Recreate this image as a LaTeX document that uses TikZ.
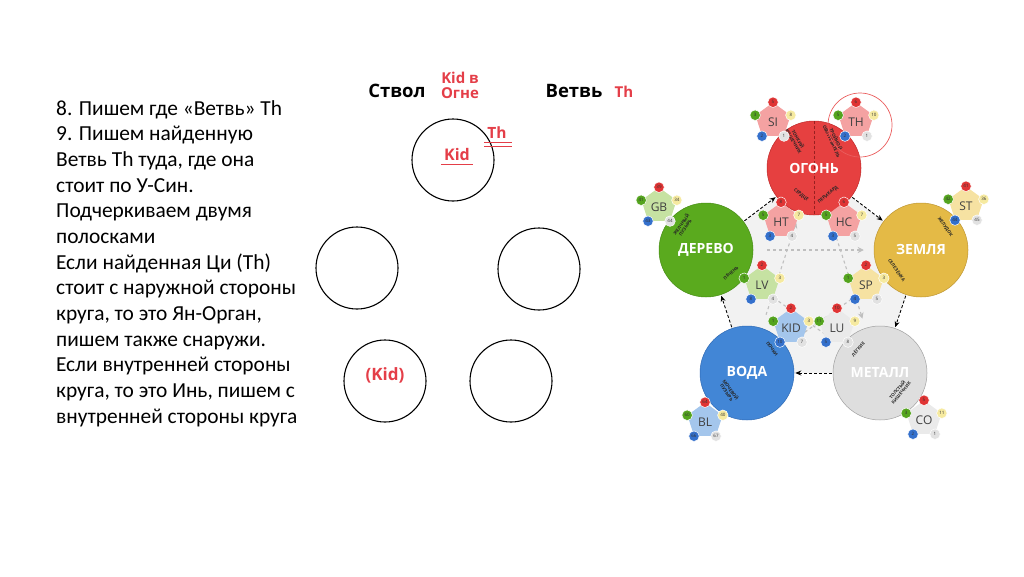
\documentclass[tikz,border=0pt]{standalone}
\usepackage{fontspec}
\setmainfont{Carlito}
\newfontfamily\osans{Open Sans}
\usetikzlibrary{shapes.geometric,arrows.meta,calc}
\definecolor{redtxt}{RGB}{228,62,72}
\definecolor{fireC}{RGB}{230,64,64}
\definecolor{fireD}{RGB}{190,40,40}
\definecolor{woodC}{RGB}{90,170,30}
\definecolor{woodD}{RGB}{70,140,20}
\definecolor{earthC}{RGB}{228,186,70}
\definecolor{earthD}{RGB}{190,150,50}
\definecolor{waterC}{RGB}{66,134,214}
\definecolor{waterD}{RGB}{45,105,180}
\definecolor{metalC}{RGB}{222,222,222}
\definecolor{metalD}{RGB}{160,160,160}
\definecolor{firep}{RGB}{244,162,162}
\definecolor{woodp}{RGB}{198,226,162}
\definecolor{earthp}{RGB}{246,226,162}
\definecolor{waterp}{RGB}{164,198,236}
\definecolor{metalp}{RGB}{234,234,234}
\definecolor{nR}{RGB}{224,52,52}
\definecolor{nG}{RGB}{84,164,30}
\definecolor{nY}{RGB}{246,234,160}
\definecolor{nB}{RGB}{52,112,204}
\definecolor{nW}{RGB}{226,226,226}
\definecolor{bggray}{RGB}{242,242,242}
\newcommand\orgpent[9]{%
  \node[pent, fill=#3] (#1) at (#2) {};
  \node[orgtext] (#1-t) at ($(#1)+(0,1.5)$) {#4};
  \node[numc, fill=nR] (#1-a) at (#1.corner 1) {#5};
  \node[numc, fill=nG] (#1-b) at (#1.corner 2) {#6};
  \node[numc, fill=nY] (#1-c) at (#1.corner 5) {#7};
  \node[numc, fill=nB] (#1-d) at (#1.corner 3) {#8};
  \node[numc, fill=nW] (#1-e) at (#1.corner 4) {#9};
}
\begin{document}
\begin{tikzpicture}[x=1pt,y=-1pt,
  bodytxt/.style={anchor=base west, inner sep=0pt, font=\fontsize{21.4}{25}\selectfont},
  hdr/.style={anchor=base, inner sep=0pt, font=\osans\bfseries\fontsize{18.5}{18.5}\selectfont},
  redsm/.style={anchor=base, inner sep=0pt, text=redtxt, font=\osans\bfseries\fontsize{15}{15}\selectfont},
  ring/.style={circle, draw=black, line width=1.1pt, minimum size=82pt, inner sep=0pt},
  redline/.style={draw=redtxt, line width=0.8pt},
  elem/.style={circle, minimum size=94pt, inner sep=0pt, line width=0.5pt},
  elemtxt/.style={text=white, inner sep=0pt, font=\osans\bfseries\fontsize{14}{14}\selectfont},
  pent/.style={regular polygon, regular polygon sides=5, minimum size=37pt, inner sep=0pt},
  orgtext/.style={inner sep=0pt, text=black!75, font=\osans\fontsize{12}{12}\selectfont},
  numc/.style={circle, draw=white, line width=0.5pt, minimum size=10.5pt, inner sep=0pt, text=black!80, font=\osans\fontsize{4.5}{4.5}\selectfont},
  tinylbl/.style={inner sep=0pt, align=center, text=black!85, font=\osans\bfseries\fontsize{4.5}{4.8}\selectfont},
  outarrow/.style={densely dashed, line width=0.9pt, black, -{Stealth[length=6pt,width=5pt]}, shorten >=1pt, shorten <=1pt},
  innerarrow/.style={dashed, line width=1.1pt, black!25, -{Stealth[length=6pt,width=6pt]}, shorten <=14pt, shorten >=10pt}
]
\useasboundingbox (0,0) rectangle (1024,576);

% ---------- left text ----------
\node[bodytxt] (l1) at (56,115) {8. Пишем где «Ветвь» Th};
\node[bodytxt] (l2) at (56,140.7) {9. Пишем найденную};
\node[bodytxt] (l3) at (56,166.3) {Ветвь Th туда, где она};
\node[bodytxt] (l4) at (56,192) {стоит по У-Син.};
\node[bodytxt] (l5) at (56,217.7) {Подчеркиваем двумя};
\node[bodytxt] (l6) at (56,243.3) {полосками};
\node[bodytxt] (l7) at (56,269) {Если найденная Ци (Th)};
\node[bodytxt] (l8) at (56,294.7) {стоит с наружной стороны};
\node[bodytxt] (l9) at (56,320.3) {круга, то это Ян-Орган,};
\node[bodytxt] (l10) at (56,346) {пишем также снаружи.};
\node[bodytxt] (l11) at (56,371.7) {Если внутренней стороны};
\node[bodytxt] (l12) at (56,397.3) {круга, то это Инь, пишем с};
\node[bodytxt] (l13) at (56,423) {внутренней стороны круга};

% ---------- headers ----------
\node[hdr] (stvol) at (397,97) {Ствол};
\node[redsm] (kidv1) at (460,83) {Kid в};
\node[redsm] (kidv2) at (460,98) {Огне};
\node[hdr] (vetv) at (574,97) {Ветвь};
\node[redsm] (thh) at (624,97) {Th};

% ---------- five empty circles ----------
\node[ring] (c1) at (453,160) {};
\node[ring] (c2) at (357,268) {};
\node[ring] (c3) at (539,269) {};
\node[ring] (c4) at (385,381) {};
\node[ring] (c5) at (511,381) {};

\node[redsm, font=\osans\bfseries\fontsize{16}{16}\selectfont] (kid) at (457,160) {Kid};
\draw[redline] ($(kid.base west)+(-3,4)$) -- ($(kid.base east)+(3,4)$);
\node[redsm, font=\osans\bfseries\fontsize{15.5}{15.5}\selectfont] (th) at (497,138) {Th};
\draw[redline] ($(th.base west)+(-3,4)$) -- ($(th.base east)+(5,4)$);
\draw[redline] ($(th.base west)+(-3,8.5)$) -- ($(th.base east)+(5,8.5)$);
\node[redsm, font=\osans\bfseries\fontsize{17}{17}\selectfont] (kidb) at (385,380) {(Kid)};

% ---------- five elements diagram ----------
\coordinate (pF) at (814,168);
\coordinate (pW) at (706,250);
\coordinate (pE) at (921,250);
\coordinate (pA) at (747,373);
\coordinate (pM) at (880,373);
\fill[bggray] (pW) -- (pF) -- (pE) -- (pM) -- (pA) -- cycle;

\node[elem, fill=fireC, draw=fireD] (fire) at (pF) {};
\node[elem, fill=woodC, draw=woodD] (wood) at (pW) {};
\node[elem, fill=earthC, draw=earthD] (earth) at (pE) {};
\node[elem, fill=waterC, draw=waterD] (water) at (pA) {};
\node[elem, fill=metalC, draw=metalD] (metal) at (pM) {};

% controlling cycle (inner star)
\draw[innerarrow] (wood) -- (earth);
\draw[innerarrow] (earth) -- (water);
\draw[innerarrow] (water) -- (fire);
\draw[innerarrow] (fire) -- (metal);
\draw[innerarrow] (metal) -- (wood);

% generating cycle (outer)
\draw[outarrow] (wood) -- (fire);
\draw[outarrow] (fire) -- (earth);
\draw[outarrow] (earth) -- (metal);
\draw[outarrow] (metal) -- (water);
\draw[outarrow] (water) -- (wood);

\draw[densely dashed, line width=0.8pt, fireD!80!black] (fire.north) -- (fire.south);

\node[elemtxt] (fire-t) at (fire) {ОГОНЬ};
\node[elemtxt] (wood-t) at (wood) {ДЕРЕВО};
\node[elemtxt] (earth-t) at (earth) {ЗЕМЛЯ};
\node[elemtxt] (water-t) at (water) {ВОДА};
\node[elemtxt, text=white, draw=none] (metal-t) at (metal) {\textcolor{white}{МЕТАЛЛ}};

% organ labels inside the element circles
\node[tinylbl, rotate=-60] (o1) at (796,140) {ТОНКИЙ\\КИШЕЧНИК};
\node[tinylbl, rotate=-65] (o2) at (834,140) {ТРОЙНОЙ\\ОБОГРЕВАТЕЛЬ};
\node[tinylbl, rotate=-40] (o3) at (801,195) {СЕРДЦЕ};
\node[tinylbl, rotate=40] (o4) at (828,195) {ПЕРИКАРД};
\node[tinylbl, rotate=55] (o5) at (683,226) {ЖЕЛЧНЫЙ\\ПУЗЫРЬ};
\node[tinylbl, rotate=40] (o6) at (731,273) {ПЕЧЕНЬ};
\node[tinylbl, rotate=-55] (o7) at (945,227) {ЖЕЛУДОК};
\node[tinylbl, rotate=-55] (o8) at (897,270) {СЕЛЕЗЁНКА};
\node[tinylbl, rotate=-55] (o9) at (772,349) {ПОЧКИ};
\node[tinylbl, rotate=-55] (o10) at (729,391) {МОЧЕВОЙ\\ПУЗЫРЬ};
\node[tinylbl, rotate=50] (o11) at (858,349) {ЛЁГКИЕ};
\node[tinylbl, rotate=50] (o12) at (899,391) {ТОЛСТЫЙ\\КИШЕЧНИК};

% organ pentagons
\orgpent{si}{773,121}{firep}{SI}{5}{3}{8}{2}{1}
\orgpent{th}{856,121}{firep}{TH}{6}{5}{10}{2}{1}
\orgpent{ht}{781,221}{firep}{HT}{8}{5}{7}{3}{4}
\orgpent{hc}{844,221}{firep}{HC}{6}{5}{7}{3}{5}
\orgpent{gb}{659,206}{woodp}{GB}{39}{41}{34}{43}{44}
\orgpent{lv}{762,284}{woodp}{LV}{2}{1}{3}{8}{4}
\orgpent{st}{966,205}{earthp}{ST}{41}{42}{36}{44}{45}
\orgpent{sp}{866,284}{earthp}{SP}{2}{1}{3}{4}{5}
\orgpent{kidp}{791,327}{waterp}{KID}{2}{1}{3}{10}{7}
\orgpent{bl}{705,421}{waterp}{BL}{64}{60}{40}{66}{67}
\orgpent{lu}{837,327}{metalp}{LU}{10}{11}{9}{5}{8}
\orgpent{co}{924,419}{metalp}{CO}{5}{3}{11}{2}{1}

\node[circle, draw=fireC!85!white, line width=0.7pt, minimum size=64pt, inner sep=0pt] (thring) at (860,125) {};
\end{tikzpicture}
\end{document}
